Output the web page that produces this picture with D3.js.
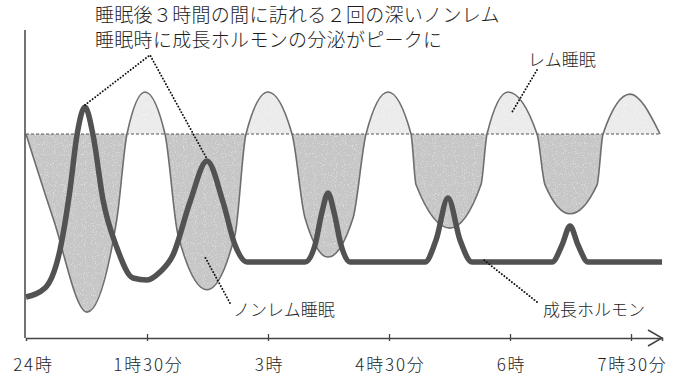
<!DOCTYPE html>
<html><head><meta charset="utf-8">
<script src="https://cdn.jsdelivr.net/npm/d3@7"></script>
<style>
body{margin:0;background:#fff}
svg{display:block}
text{font-family:"Noto Sans CJK JP","Noto Sans",sans-serif;font-weight:300;fill:#1e1e1e}
</style>
</head><body><script>
// x axis: hours after falling asleep
const tickHours = [0, 1.5, 3, 4.5, 6, 7.5];
const tickLabels = ["24時", "1時30分", "3時", "4時30分", "6時", "7時30分"];

// sleep depth (0 = boundary, + = REM, - = deeper non-REM)
const sleepHours = [0, 0.335, 0.756, 1.128, 1.252, 1.475, 1.723, 1.884, 2.244, 2.591, 2.727, 3.0, 3.298, 3.459, 3.744, 4.054, 4.215, 4.488, 4.773, 4.835, 5.256, 5.640, 5.715, 5.975, 6.335, 6.434, 6.744, 7.079, 7.153, 7.488, 7.860];
const sleepDepth = [0, -2, -4.24, -2, 0, 1, 0, -2.4, -3.71, -2.4, 0, 1, 0, -2, -2.93, -2, 0, 1, 0, -1.21, -2.24, -1.21, 0, 1, 0, -1.21, -1.9, -1.21, 0, 0.95, 0];

// growth hormone level (arbitrary units)
const ghHours = [0, 0.236, 0.421, 0.545, 0.632, 0.731, 0.831, 0.955, 1.128, 1.326, 1.5, 1.661, 1.822, 2.033, 2.244, 2.442, 2.591, 2.740, 3.459, 3.583, 3.669, 3.744, 3.818, 3.905, 4.016, 4.946, 5.083, 5.231, 5.380, 5.529, 6.521, 6.645, 6.744, 6.843, 6.967, 7.884];
const ghLevel = [0.15, 0.6, 2.5, 5.5, 8.25, 9.65, 8.25, 5.0, 2.6, 1.1, 1.0, 1.4, 2.25, 4.9, 6.95, 4.9, 2.75, 1.9, 1.9, 2.75, 4.4, 5.35, 4.4, 2.75, 1.9, 1.9, 3.0, 5.1, 3.0, 1.9, 1.9, 2.75, 3.7, 2.75, 1.9, 1.9];

const titleLines = ["睡眠後３時間の間に訪れる２回の深いノンレム", "睡眠時に成長ホルモンの分泌がピークに"];

const W = 680, H = 387;
const x = d3.scaleLinear().domain([0, 7.884]).range([26, 662]);
const yD = d3.scaleLinear().domain([-4, 1]).range([302, 92]);
const yG = d3.scaleLinear().domain([0, 10]).range([300, 100]);

const sleep = sleepHours.map((h, i) => ({h, v: sleepDepth[i]}));
const gh = ghHours.map((h, i) => ({h, v: ghLevel[i]}));

const svg = d3.select("body").append("svg").attr("width", W).attr("height", H);
const defs = svg.append("defs");

defs.append("clipPath").attr("id", "above")
  .append("rect").attr("x", 0).attr("y", 0).attr("width", W).attr("height", yD(0));
defs.append("clipPath").attr("id", "below")
  .append("rect").attr("x", 0).attr("y", yD(0)).attr("width", W).attr("height", H);

// light speckle texture
const f = defs.append("filter").attr("id", "grain").attr("color-interpolation-filters", "sRGB");
f.append("feTurbulence").attr("type", "fractalNoise").attr("baseFrequency", 0.9)
  .attr("numOctaves", 1).attr("seed", 4).attr("result", "t");
f.append("feColorMatrix").attr("in", "t").attr("type", "matrix")
  .attr("values", "0 0 0 0 1  0 0 0 0 1  0 0 0 0 1  0 0 0 2.2 -1.2").attr("result", "spk");
f.append("feComposite").attr("in", "spk").attr("in2", "SourceGraphic").attr("operator", "in").attr("result", "spk2");
const fm = f.append("feMerge");
fm.append("feMergeNode").attr("in", "SourceGraphic");
fm.append("feMergeNode").attr("in", "spk2");

const area = d3.area().x(d => x(d.h)).y0(yD(0)).y1(d => yD(d.v)).curve(d3.curveMonotoneX);
const line = d3.line().x(d => x(d.h)).y(d => yD(d.v)).curve(d3.curveMonotoneX);
const ghLine = d3.line().x(d => x(d.h)).y(d => yG(d.v)).curve(d3.curveMonotoneX);

svg.append("path").attr("d", area(sleep)).attr("clip-path", "url(#above)")
  .attr("fill", "#ebebeb").attr("filter", "url(#grain)");
svg.append("path").attr("d", area(sleep)).attr("clip-path", "url(#below)")
  .attr("fill", "#c6c6c6").attr("filter", "url(#grain)");

svg.append("line").attr("x1", x(0)).attr("x2", x(sleepHours[sleepHours.length - 1]))
  .attr("y1", yD(0)).attr("y2", yD(0))
  .attr("stroke", "#555").attr("stroke-width", 1).attr("stroke-dasharray", "3,2");

svg.append("path").attr("d", line(sleep)).attr("fill", "none")
  .attr("stroke", "#6e6e6e").attr("stroke-width", 1.6);

svg.append("path").attr("d", ghLine(gh)).attr("fill", "none")
  .attr("stroke", "#525252").attr("stroke-width", 5.5)
  .attr("stroke-linejoin", "round").attr("stroke-linecap", "butt");

// axes
const axisColor = "#444";
svg.append("line").attr("x1", 25).attr("x2", 25).attr("y1", 30).attr("y2", 338)
  .attr("stroke", axisColor).attr("stroke-width", 1.5);

const xAxis = svg.append("g").attr("transform", "translate(0,338)")
  .call(d3.axisBottom(x).tickValues(tickHours).tickSizeOuter(0).tickSize(3)
    .tickFormat((d, i) => tickLabels[i]));
xAxis.select(".domain").attr("stroke", axisColor).attr("stroke-width", 1.5);
xAxis.selectAll(".tick line").attr("stroke", axisColor).attr("stroke-width", 1.3).attr("y1", -4).attr("y2", 3);
xAxis.selectAll(".tick").filter(d => d === 0).select("line").remove();
xAxis.selectAll(".tick text").attr("y", 0).attr("dy", 33).attr("font-size", 17)
  .attr("font-family", '"Noto Sans CJK JP",sans-serif').attr("font-weight", 300)
  .attr("fill", "#1e1e1e").attr("letter-spacing", 1.8)
  .attr("dx", d => d === 0 ? 7 : 1);

svg.append("path").attr("d", "M648,330 L662,338 L648,346")
  .attr("fill", "none").attr("stroke", axisColor).attr("stroke-width", 1.5);

// leaders
const dots = (pts) => svg.append("path").attr("d", d3.line()(pts)).attr("fill", "none")
  .attr("stroke", "#111").attr("stroke-width", 1.9).attr("stroke-linecap", "round")
  .attr("stroke-dasharray", "0.1,3.1");
const apex = [150, 55];
dots([[x(0.731), yG(9.65) - 2], apex, [x(2.244), yG(6.95) - 2]]);
dots([[537, 70], [x(6.025), yD(0.52)]]);
dots([[230, 303], [x(2.219), yD(-2.93)]]);
dots([[537, 302], [x(5.677), yG(2.0)]]);

// text
svg.selectAll(".title").data(titleLines).join("text")
  .attr("x", 95).attr("y", (d, i) => 22 + i * 25)
  .attr("font-size", 19).attr("letter-spacing", 0.3).text(d => d);
svg.append("text").attr("x", 528).attr("y", 66).attr("font-size", 17).text("レム睡眠");
svg.append("text").attr("x", 233).attr("y", 316).attr("font-size", 17).text("ノンレム睡眠");
svg.append("text").attr("x", 543).attr("y", 316).attr("font-size", 17).text("成長ホルモン");
</script></body></html>
